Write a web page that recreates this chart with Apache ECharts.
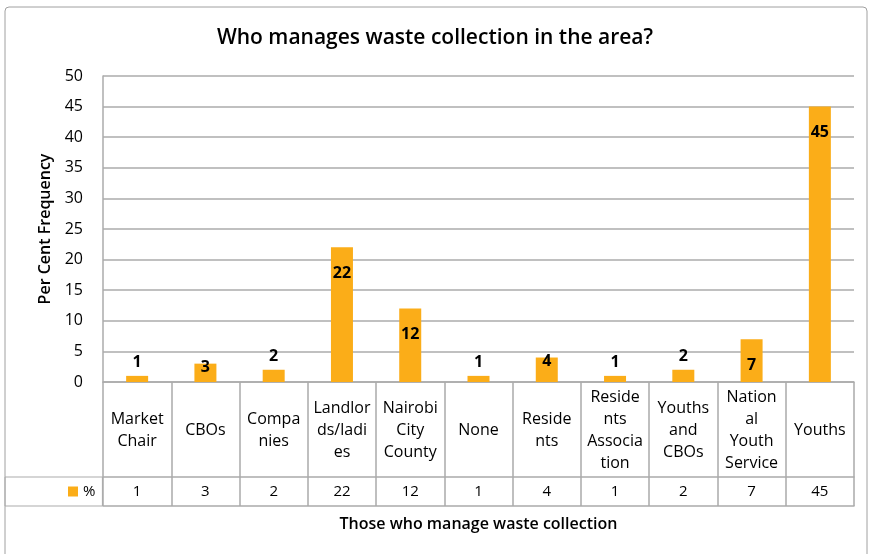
<!DOCTYPE html>
<html>
<head>
<meta charset="utf-8">
<script src="https://cdn.jsdelivr.net/npm/echarts@6/dist/echarts.min.js"></script>
<style>
  html, body { margin: 0; padding: 0; background: #fff; }
  #chart { width: 870px; height: 554px; }
</style>
</head>
<body>
<div id="chart"></div>
<script>
// categories as wrapped in the reference's data table
var categories = ['Market\nChair', 'CBOs', 'Compa\nnies', 'Landlor\nds/ladi\nes', 'Nairobi\nCity\nCounty',
    'None', 'Reside\nnts', 'Reside\nnts\nAssocia\ntion', 'Youths\nand\nCBOs', 'Nation\nal\nYouth\nService', 'Youths'];
var percents = [1, 3, 2, 22, 12, 1, 4, 1, 2, 7, 45];
var yTicks = [0, 50, 5]; // min, max, interval

var font = 'Open Sans';
var lineColor = '#ababab';
var barColor = '#fbad18';

var chart = echarts.init(document.getElementById('chart'));

// label placement like Excel's "inside end": short bars push the label up
function barLabel(v) {
    if (v <= 2) return { position: 'top', distance: 5 };
    if (v < 5) return { position: 'insideTop', distance: -4 };
    return {};
}

var option = {
    textStyle: { fontFamily: font },
    title: {
        text: 'Who manages waste collection in the area?',
        left: 'center',
        top: 23,
        textStyle: { fontFamily: font, fontSize: 21, fontWeight: 600, color: '#000' }
    },
    graphic: [{
        type: 'rect',
        shape: { x: 5, y: 7, width: 862, height: 570, r: 4 },
        style: { fill: 'none', stroke: '#a0a0a0', lineWidth: 1 },
        silent: true
    }],
    legend: {
        data: ['%'],
        left: 5,
        top: 477,
        padding: [7, 7, 7, 63],
        itemWidth: 10,
        itemHeight: 10,
        itemGap: 0,
        borderColor: lineColor,
        borderWidth: 1,
        borderRadius: 0,
        icon: 'rect',
        textStyle: { fontFamily: font, fontSize: 15, color: '#000' }
    },
    grid: { left: 103, right: 16, top: 76, bottom: 172 },
    xAxis: [{
        type: 'category',
        data: categories,
        position: 'bottom',
        axisLine: { show: true, lineStyle: { color: lineColor, width: 1.5 } },
        axisTick: { show: true, length: 124, lineStyle: { color: lineColor, width: 1.5 } },
        axisLabel: {
            interval: 0, margin: 48, verticalAlign: 'middle',
            fontFamily: font, fontSize: 16, lineHeight: 22, color: '#000'
        }
    }, {
        type: 'category',
        data: percents.map(String),
        position: 'bottom',
        offset: 95,
        axisLine: { show: true, lineStyle: { color: lineColor, width: 1.5 } },
        axisTick: { show: false },
        axisLabel: {
            interval: 0, margin: 15, verticalAlign: 'middle',
            fontFamily: font, fontSize: 15, color: '#000'
        }
    }, {
        type: 'category',
        data: categories,
        position: 'bottom',
        offset: 124,
        axisLine: { show: true, lineStyle: { color: lineColor, width: 1.5 } },
        axisTick: { show: false },
        axisLabel: { show: false },
        name: 'Those who manage waste collection',
        nameLocation: 'middle',
        nameGap: 10,
        nameTextStyle: { fontFamily: font, fontSize: 16, fontWeight: 600, color: '#000' }
    }],
    yAxis: {
        type: 'value',
        min: yTicks[0],
        max: yTicks[1],
        interval: yTicks[2],
        name: 'Per Cent Frequency',
        nameLocation: 'middle',
        nameGap: 48,
        nameTextStyle: { fontFamily: font, fontSize: 16, fontWeight: 600, color: '#000' },
        axisLine: { show: true, lineStyle: { color: lineColor, width: 1.5 } },
        axisTick: { show: false },
        axisLabel: { margin: 20, fontFamily: font, fontSize: 16, color: '#000' },
        splitLine: { lineStyle: { color: lineColor, width: 1.5 } }
    },
    series: [{
        name: '%',
        type: 'bar',
        xAxisIndex: 0,
        barWidth: 22,
        itemStyle: { color: barColor },
        label: {
            show: true,
            position: 'insideTop',
            distance: 18,
            fontFamily: font,
            fontSize: 16,
            fontWeight: 'bold',
            color: '#000'
        },
        data: percents.map(function (v) {
            var lbl = barLabel(v);
            return { value: v, label: lbl };
        })
    }]
};

chart.setOption(option);
</script>
</body>
</html>
